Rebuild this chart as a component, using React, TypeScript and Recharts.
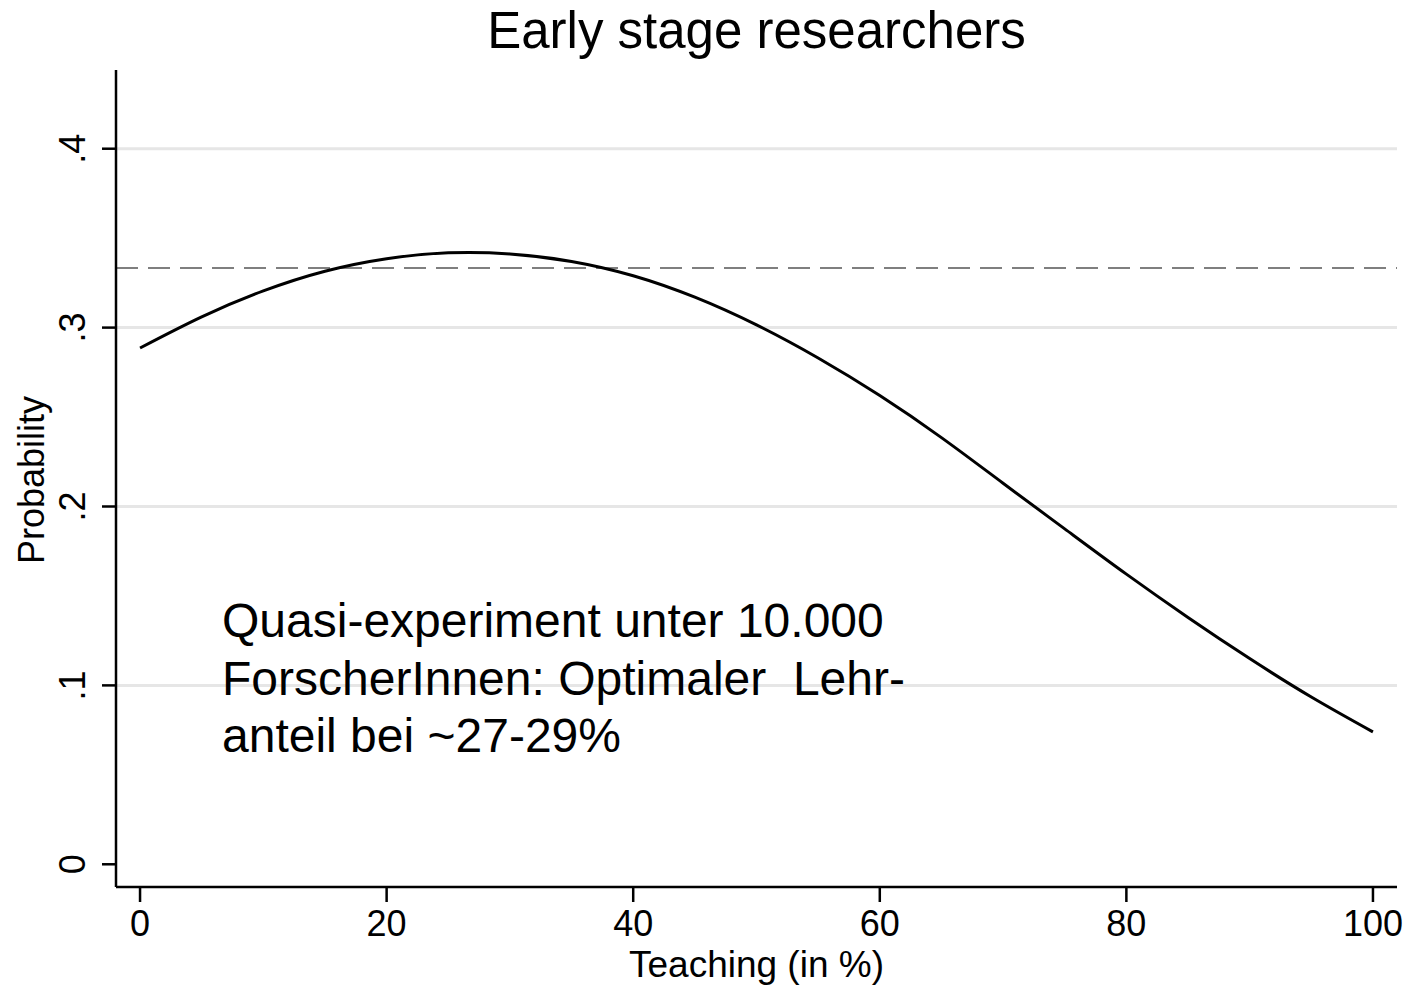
import React from 'react';
import { LineChart, Line, XAxis, YAxis, CartesianGrid, ReferenceLine } from 'recharts';

// predicted probability curve
const teaching = [0, 5, 10, 15, 20, 25, 30, 35, 40, 45, 50, 55, 60, 65, 70, 75, 80, 85, 90, 95, 100];
const probability = [
    0.2886, 0.306, 0.3205, 0.3315, 0.3385, 0.3418, 0.3412, 0.337, 0.329, 0.317, 0.3015,
    0.283, 0.262, 0.2385, 0.213, 0.1875, 0.1622, 0.138, 0.115, 0.0935, 0.074,
];
const xTicks = [0, 20, 40, 60, 80, 100];
const yTicks = [0, 0.1, 0.2, 0.3, 0.4];
const yTickLabels = ['0', '.1', '.2', '.3', '.4'];
const gridValues = [0.1, 0.2, 0.3, 0.4];
const baseline = 1 / 3;

const title = 'Early stage researchers';
const xLabel = 'Teaching (in %)';
const yLabel = 'Probability';
const noteLines = ['Quasi-experiment unter 10.000', 'ForscherInnen: Optimaler  Lehr-', 'anteil bei ~27-29%'];

const FONT = '"Liberation Sans", Arial, sans-serif';

const chartData = teaching.map((t, i) => ({ t, p: probability[i] }));

const XTick = (props: any) => {
    const { x, y, payload } = props;
    return (
        <text x={x} y={y + 32} textAnchor="middle" fontSize={36} fontFamily={FONT} fill="#000">
            {payload.value}
        </text>
    );
};

const YTick = (props: any) => {
    const { x, y, payload } = props;
    const idx = yTicks.findIndex(v => Math.abs(v - payload.value) < 1e-9);
    const bx = x - 15;
    return (
        <text
            x={bx}
            y={y}
            transform={`rotate(-90, ${bx}, ${y})`}
            textAnchor="middle"
            fontSize={36}
            fontFamily={FONT}
            fill="#000"
        >
            {idx >= 0 ? yTickLabels[idx] : payload.value}
        </text>
    );
};

const App: React.FC = () => {
    return (
        <div style={{ position: 'absolute', left: 0, top: 0, width: 1408, height: 987, background: '#fff' }}>
            <LineChart width={1408} height={987} data={chartData} margin={{ top: 70, right: 11, bottom: 0, left: 0 }}>
                <CartesianGrid horizontal vertical={false} horizontalValues={gridValues} stroke="#e6e6e6" strokeWidth={3} />
                <XAxis
                    dataKey="t"
                    type="number"
                    domain={[-1.95, 101.95]}
                    ticks={xTicks}
                    allowDataOverflow
                    height={100}
                    tickSize={15}
                    tick={<XTick />}
                    axisLine={{ stroke: '#000', strokeWidth: 2.5 }}
                    tickLine={{ stroke: '#000', strokeWidth: 2.5 }}
                />
                <YAxis
                    type="number"
                    domain={[-0.0127, 0.444]}
                    ticks={yTicks}
                    allowDataOverflow
                    width={116}
                    tickSize={14}
                    tick={<YTick />}
                    axisLine={{ stroke: '#000', strokeWidth: 2.5 }}
                    tickLine={{ stroke: '#000', strokeWidth: 2.5 }}
                />
                <ReferenceLine y={baseline} stroke="#555" strokeWidth={1.6} strokeDasharray="22 10" />
                <Line
                    type="natural"
                    dataKey="p"
                    stroke="#000"
                    strokeWidth={3}
                    dot={false}
                    isAnimationActive={false}
                />
            </LineChart>
            <svg
                width={1408}
                height={987}
                style={{ position: 'absolute', left: 0, top: 0, pointerEvents: 'none' }}
                fontFamily={FONT}
            >
                <text x={756.5} y={48} textAnchor="middle" fontSize={51} fill="#000">
                    {title}
                </text>
                <text x={756.5} y={977} textAnchor="middle" fontSize={37} fill="#000">
                    {xLabel}
                </text>
                <text x={44} y={480} transform="rotate(-90, 44, 480)" textAnchor="middle" fontSize={36} fill="#000">
                    {yLabel}
                </text>
                {noteLines.map((line, i) => (
                    <text key={i} x={222} y={637 + i * 57.5} fontSize={48} fill="#000" style={{ whiteSpace: 'pre' }}>
                        {line}
                    </text>
                ))}
            </svg>
        </div>
    );
};

export default App;
